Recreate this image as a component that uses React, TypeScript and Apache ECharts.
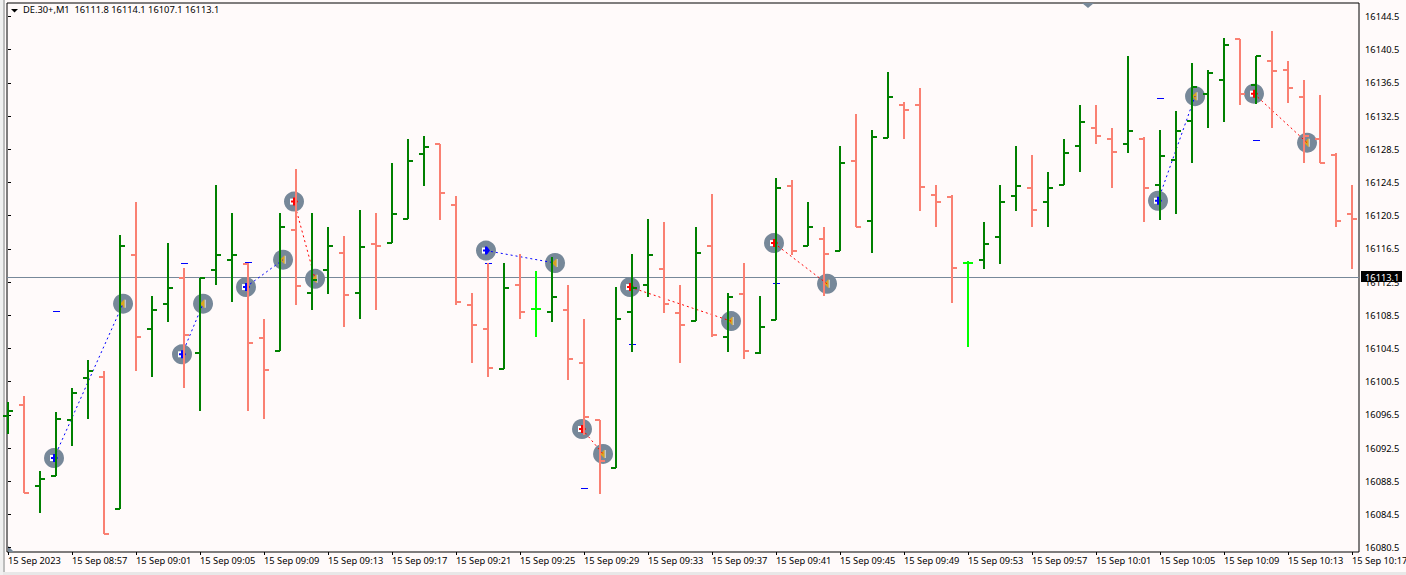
import React, { useEffect, useRef } from "react";
import * as echarts from "echarts";

const opens = [16096.4,16097.7,16087.9,16089.1,16095.9,16100.9,16101.1,16085.2,16115.8,16106.9,16109.9,16113.0,16103.9,16113.9,16115.2,16114.7,16105.8,16104.2,16118.8,16111.2,16113.9,16116.0,16111.2,16117.1,16117.2,16120.1,16127.9,16129.1,16121.8,16109.8,16106.8,16102.0,16112.1,16109.2,16108.9,16109.1,16102.8,16095.9,16090.1,16108.9,16112.2,16114.1,16108.8,16107.8,16116.8,16105.9,16111.1,16103.9,16107.9,16124.1,16116.9,16117.7,16116.2,16127.1,16119.9,16129.9,16133.8,16133.8,16123.0,16122.8,16114.8,16115.2,16117.9,16122.9,16123.8,16122.2,16124.2,16128.9,16131.1,16129.8,16129.2,16129.8,16124.2,16127.2,16131.9,16135.2,16136.9,16141.8,16136.2,16139.1,16138.1,16134.8,16129.8,16127.8,16120.7];
const highs = [16098.1,16098.8,16089.8,16096.8,16099.8,16103.1,16101.8,16118.2,16122.2,16110.8,16117.2,16114.2,16113.0,16124.2,16120.8,16114.8,16108.1,16120.8,16126.1,16120.8,16119.1,16118.1,16121.2,16120.8,16126.9,16129.8,16130.1,16129.1,16122.9,16111.2,16114.8,16114.8,16115.9,16113.8,16115.5,16112.1,16108.1,16095.9,16111.9,16115.9,16120.1,16119.8,16112.1,16119.1,16123.1,16111.2,16114.8,16110.8,16125.1,16124.8,16122.1,16119.1,16128.9,16132.8,16130.8,16137.8,16134.2,16135.9,16124.2,16123.0,16115.1,16119.8,16124.2,16128.9,16127.8,16125.8,16129.8,16133.8,16133.8,16131.1,16139.8,16130.0,16130.8,16133.1,16138.9,16138.1,16141.9,16141.8,16139.8,16142.8,16139.1,16136.8,16135.1,16128.1,16124.2];
const lows = [16094.2,16087.1,16084.7,16089.1,16092.8,16096.0,16082.2,16085.2,16101.8,16101.1,16107.7,16099.8,16097.0,16112.1,16110.1,16097.0,16096.0,16104.2,16109.8,16109.1,16111.1,16107.1,16108.1,16109.1,16117.2,16120.1,16124.1,16120.0,16109.8,16102.8,16101.1,16102.0,16108.1,16105.9,16107.7,16100.7,16094.1,16087.0,16090.1,16104.1,16110.7,16108.8,16102.8,16107.8,16105.9,16104.1,16103.2,16103.8,16107.9,16115.8,16116.9,16110.8,16116.2,16119.2,16116.0,16129.9,16129.8,16121.1,16119.1,16110.0,16104.7,16114.1,16114.7,16121.1,16119.1,16119.1,16124.2,16125.8,16129.1,16123.8,16128.1,16119.8,16120.0,16120.7,16126.8,16131.1,16131.8,16133.8,16134.0,16131.1,16134.1,16126.8,16126.8,16119.1,16114.1];
const closes = [16097.0,16087.1,16088.8,16096.0,16099.1,16101.8,16082.2,16116.8,16105.9,16109.1,16111.8,16106.1,16113.0,16115.8,16115.8,16105.2,16101.9,16119.1,16112.0,16112.8,16116.8,16110.9,16116.7,16116.9,16120.7,16127.1,16128.8,16123.2,16110.1,16107.3,16102.2,16111.8,16108.9,16109.2,16110.7,16103.2,16096.2,16090.9,16108.1,16111.8,16115.8,16109.9,16107.3,16116.0,16106.1,16110.7,16104.2,16107.1,16123.8,16116.2,16119.1,16115.9,16126.8,16119.2,16130.0,16134.8,16133.2,16123.9,16122.2,16114.2,16114.8,16117.1,16122.1,16124.1,16121.2,16123.8,16128.1,16131.8,16130.1,16128.2,16130.7,16123.8,16127.7,16130.7,16136.0,16137.7,16141.1,16135.2,16139.8,16137.9,16135.9,16130.1,16126.8,16119.9,16120.1];

const timeLabels = ["15 Sep 2023","15 Sep 08:57","15 Sep 09:01","15 Sep 09:05","15 Sep 09:09","15 Sep 09:13","15 Sep 09:17","15 Sep 09:21","15 Sep 09:25","15 Sep 09:29","15 Sep 09:33","15 Sep 09:37","15 Sep 09:41","15 Sep 09:45","15 Sep 09:49","15 Sep 09:53","15 Sep 09:57","15 Sep 10:01","15 Sep 10:05","15 Sep 10:09","15 Sep 10:13","15 Sep 10:17"];
const priceTicks = [16080.5,16084.5,16088.5,16092.5,16096.5,16100.5,16104.5,16108.5,16112.5,16116.5,16120.5,16124.5,16128.5,16132.5,16136.5,16140.5,16144.5];

// side (1 = buy, -1 = sell), entry index, entry price, exit index, exit price
const tradeSides = [1,1,1,-1,1,-1,-1,-1,1,-1];
const entryIndex = [2.875,10.875,14.875,17.875,29.875,35.875,38.875,47.875,71.875,77.875];
const entryPrice = [16091.3,16103.8,16111.9,16122.2,16116.3,16094.8,16111.9,16117.2,16122.3,16135.2];
const exitIndex = [7.19,12.19,17.19,19.19,34.19,37.19,45.19,51.19,74.19,81.19];
const exitPrice = [16109.9,16109.9,16115.2,16112.9,16114.8,16091.8,16107.8,16112.3,16134.9,16129.3];

const levelIndex = [3,11,15,30,36,39,48,72,78];
const levelPrice = [16109.0,16114.8,16114.9,16114.8,16087.7,16105.0,16112.4,16134.7,16129.6];

const currentPrice = 16113.1;
const headerText = "DE.30+,M1  16111.8 16114.1 16107.1 16113.1";

const GREEN = "#008000";
const SALMON = "#FA8072";
const LIME = "#00FF00";
const SLATE = "#778899";
const BG = "#FFFAFA";
const FONT = '"Noto Sans", sans-serif';

function App() {
  const ref = useRef<HTMLDivElement>(null);
  useEffect(() => {
    document.body.style.margin = "0";
    const chart = echarts.init(ref.current as HTMLDivElement, undefined, { renderer: "svg" });

    const barData = opens.map((o, i) => [i, o, highs[i], lows[i], closes[i]]);
    const tradeData = tradeSides.map((s, i) => [entryIndex[i], entryPrice[i], exitIndex[i], exitPrice[i], s]);
    const levelData = levelIndex.map((k, i) => [k, levelPrice[i]]);

    const renderBar = (_: any, api: any) => {
      const k = api.value(0);
      const o = api.value(1), h = api.value(2), l = api.value(3), c = api.value(4);
      const x = Math.round(api.coord([k, h])[0]);
      const yH = Math.round(api.coord([k, h])[1]);
      const yL = Math.round(api.coord([k, l])[1]);
      const yO = Math.round(api.coord([k, o])[1]);
      const yC = Math.round(api.coord([k, c])[1]);
      const color = c > o ? GREEN : c < o ? SALMON : LIME;
      const rect = (rx: number, ry: number, w: number, hh: number) => ({
        type: "rect", shape: { x: rx, y: ry, width: w, height: hh }, style: { fill: color },
      });
      return {
        type: "group",
        children: [
          rect(x - 1, yH, 2, Math.max(yL - yH, 1)),
          rect(x - 5, yO - 1, 5, 2),
          rect(x, yC - 1, 5, 2),
        ],
      };
    };

    const renderCircles = (_: any, api: any) => {
      const [ax, ay] = api.coord([api.value(0), api.value(1)]);
      const [bx, by] = api.coord([api.value(2), api.value(3)]);
      const lineColor = api.value(4) > 0 ? "#0000FF" : "#FF0000";
      return {
        type: "group",
        children: [
          { type: "circle", shape: { cx: ax, cy: ay, r: 10 }, style: { fill: SLATE } },
          { type: "circle", shape: { cx: bx, cy: by, r: 10 }, style: { fill: SLATE } },
          // entry arrow
          {
            type: "rect",
            shape: { x: ax - 4, y: ay - 3, width: 5, height: 6 },
            style: { fill: "#FFFFFF" },
          },
          {
            type: "polygon",
            shape: { points: [[ax - 3, ay - 1], [ax - 1, ay - 1], [ax - 1, ay - 4], [ax + 1, ay - 4], [ax + 4, ay], [ax + 1, ay + 4], [ax - 1, ay + 4], [ax - 1, ay + 1], [ax - 3, ay + 1]] },
            style: { fill: lineColor },
          },
          // exit arrow
          {
            type: "rect",
            shape: { x: bx + 1.5, y: by - 4, width: 1, height: 8 },
            style: { fill: "#FFFFFF" },
          },
          {
            type: "polygon",
            shape: { points: [[bx - 3, by], [bx + 1.5, by - 4.5], [bx + 1.5, by + 4.5]] },
            style: { fill: "#DAA520" },
          },
          {
            type: "line",
            shape: { x1: ax, y1: ay, x2: bx, y2: by },
            style: { stroke: lineColor, lineWidth: 1, lineDash: [2, 3] },
          },
        ],
      };
    };

    const renderLevel = (_: any, api: any) => {
      const [x, y] = api.coord([api.value(0), api.value(1)]);
      return {
        type: "rect",
        shape: { x: Math.round(x) - 3, y: Math.round(y), width: 7, height: 1 },
        style: { fill: "#0000FF" },
      };
    };

    const renderPriceBox = (_: any, api: any) => {
      const y = Math.round(api.coord([0, api.value(0)])[1]);
      return {
        type: "group",
        children: [
          { type: "rect", shape: { x: 7, y, width: 1352, height: 1 }, style: { fill: SLATE } },
          { type: "rect", shape: { x: 1361, y: y - 6, width: 41, height: 11 }, style: { fill: "#000000" } },
          {
            type: "text",
            style: {
              x: 1365, y: y, text: String(api.value(0).toFixed(1)), fill: "#FFFFFF",
              font: `9.3px ${FONT}`, textVerticalAlign: "middle", textAlign: "left",
            },
          },
        ],
      };
    };

    chart.setOption({
      animation: false,
      backgroundColor: BG,
      textStyle: { fontFamily: FONT },
      grid: {
        left: 7, top: 3, width: 1352, height: 549, outerBoundsMode: "none",
        show: true, borderColor: "#000000", borderWidth: 1, backgroundColor: "transparent",
      },
      xAxis: {
        type: "value", min: -0.0625, max: 84.4375,
        splitLine: { show: false }, axisLine: { show: false },
        axisTick: { show: true, length: 3, lineStyle: { color: "#000" }, customValues: timeLabels.map((_, i) => i * 4) },
        axisLabel: {
          show: true, customValues: timeLabels.map((_, i) => i * 4),
          align: "left", margin: 4, fontSize: 9.3, fontFamily: FONT, color: "#000",
          formatter: (v: number) => timeLabels[Math.round(v / 4)],
        },
      },
      yAxis: {
        type: "value", position: "right", min: 16079.98, max: 16146.13,
        splitLine: { show: false }, axisLine: { show: false },
        axisTick: { show: true, length: 3, lineStyle: { color: "#000" }, customValues: priceTicks },
        axisLabel: {
          show: true, customValues: priceTicks, margin: 6, fontSize: 9.3, fontFamily: FONT, color: "#000",
          formatter: (v: number) => v.toFixed(1),
        },
      },
      graphic: [
        { type: "rect", shape: { x: 0, y: 0, width: 3, height: 575 }, style: { fill: "#F0F0F0" } },
        { type: "rect", shape: { x: 3, y: 0, width: 2, height: 572 }, style: { fill: "#BDBDBD" } },
        { type: "rect", shape: { x: 3, y: 572, width: 1403, height: 3 }, style: { fill: "#E8E8E8" } },
        { type: "polygon", shape: { points: [[11, 9], [18, 9], [14.5, 12.5]] }, style: { fill: "#000000" } },
        { type: "polygon", shape: { points: [[1082, 3], [1094, 3], [1088, 8]] }, style: { fill: SLATE } },
        { type: "polygon", shape: { points: [[8, 546], [14, 552], [8, 552]] }, style: { fill: SLATE } },
        {
          type: "text", x: 23, y: 5,
          style: { text: headerText, fill: "#000000", font: `9.3px ${FONT}` },
        },
      ],
      series: [
        {
          type: "custom", name: "price", data: [[currentPrice]], encode: { y: 0 },
          renderItem: renderPriceBox, z: 1, silent: true,
        },
        {
          type: "custom", name: "trades", data: tradeData, encode: { x: [0, 2], y: [1, 3] },
          renderItem: renderCircles, z: 2, silent: true,
        },
        {
          type: "custom", name: "levels", data: levelData, encode: { x: 0, y: 1 },
          renderItem: renderLevel, z: 3, silent: true,
        },
        {
          type: "custom", name: "bars", data: barData, encode: { x: 0, y: [1, 2, 3, 4] },
          renderItem: renderBar, z: 4, silent: true,
        },
      ],
    });
    return () => chart.dispose();
  }, []);
  return <div ref={ref} style={{ position: "absolute", left: 0, top: 0, width: 1406, height: 575 }} />;
}

export default App;
